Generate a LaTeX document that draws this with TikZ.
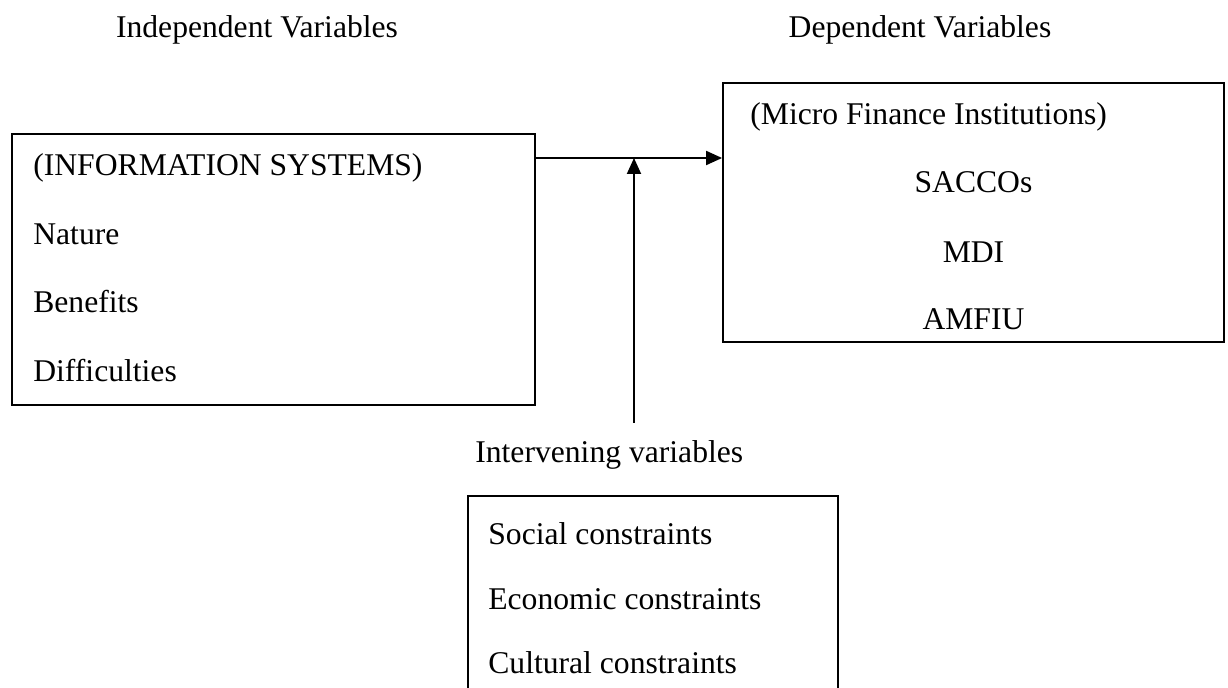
\documentclass[tikz,border=0pt]{standalone}
\usepackage{fontspec}
\setmainfont{Liberation Serif}
\usetikzlibrary{arrows.meta}
\tikzset{
  box/.style={draw,line width=1.1pt,inner sep=0pt},
  txt/.style={anchor=base west,inner sep=0pt},
  mid/.style={anchor=base,inner sep=0pt},
  link/.style={line width=1.1pt,-{Triangle[length=0.32cm,width=0.28cm]}}
}
\begin{document}
\begin{tikzpicture}[x=0.02cm,y=-0.02cm,font=\fontsize{18}{22}\selectfont]
\useasboundingbox (0,0) rectangle (1228,688);
% headings
\node[mid] (indep) at (257,38) {Independent Variables};
\node[mid] (dep) at (920,38) {Dependent Variables};
\node[txt] (interv) at (475,463) {Intervening variables};
% boxes
\node[box,minimum width=10.46cm,minimum height=5.42cm] (info) at (273.5,269.5) {};
\node[box,minimum width=10.02cm,minimum height=5.18cm] (mfi) at (973.5,212.5) {};
\node[box,minimum width=7.4cm,minimum height=4.48cm] (cons) at (653,608) {};
% left box
\node[txt] (infotitle) at (33,176) {(INFORMATION SYSTEMS)};
\node[txt] (nature) at (33,245) {Nature};
\node[txt] (benefits) at (33,313) {Benefits};
\node[txt] (diffs) at (33,382) {Difficulties};
% right box
\node[txt] (mfititle) at (750,125) {(Micro Finance Institutions)};
\node[mid] (saccos) at (973.5,193) {SACCOs};
\node[mid] (mdi) at (973.5,263) {MDI};
\node[mid] (amfiu) at (973.5,330) {AMFIU};
% bottom box
\node[txt] (social) at (488,545) {Social constraints};
\node[txt] (econ) at (488,610) {Economic constraints};
\node[txt] (cult) at (488,674) {Cultural constraints};
% arrows
\coordinate (split) at (634,158);
\coordinate (foot) at (634,423);
\draw[link] (info.east |- split) -- (mfi.west |- split);
\draw[link] (foot) -- (split);
\end{tikzpicture}
\end{document}
